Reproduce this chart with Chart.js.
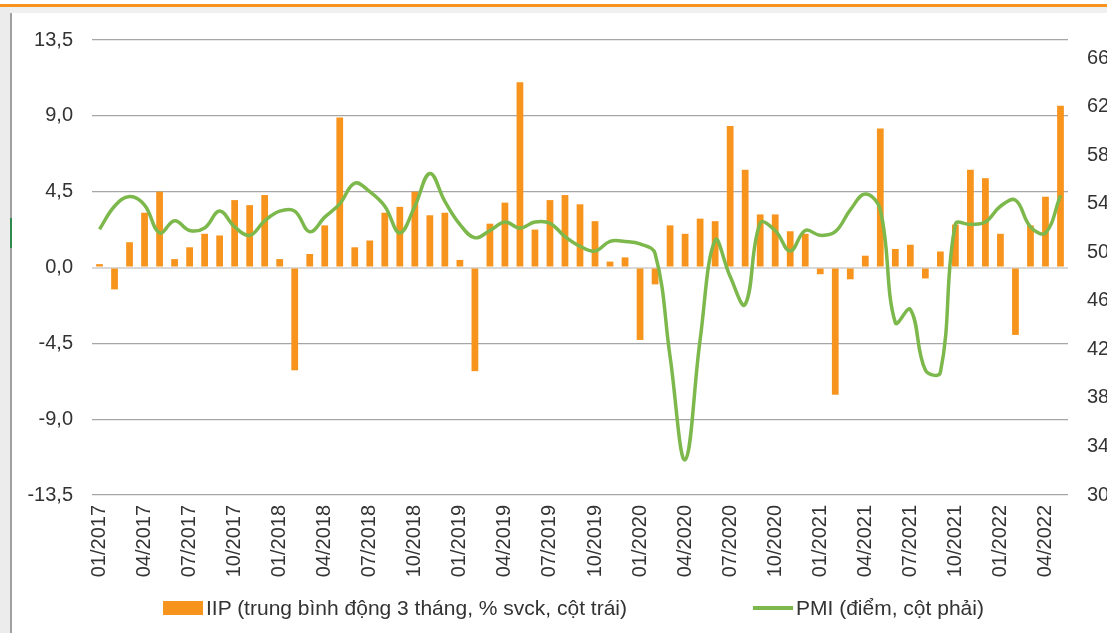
<!DOCTYPE html>
<html>
<head>
<meta charset="utf-8">
<script src="https://cdn.jsdelivr.net/npm/chart.js@4.4.0/dist/chart.umd.min.js"></script>
<style>
  html, body { margin: 0; padding: 0; background: #fff; }
  body { width: 1107px; height: 633px; position: relative; overflow: hidden; font-family: 'Liberation Sans', Arial, sans-serif; }
  #topLine { position: absolute; left: 0; top: 4px; width: 1107px; height: 3px; background: #F7941E; }
  #topBand { position: absolute; left: 0; top: 7px; width: 1107px; height: 6px; background: #f0f0f0; }
  #leftBand { position: absolute; left: 0; top: 7px; width: 10px; height: 626px; background: #ececec; }
  #leftRule { position: absolute; left: 10px; top: 13px; width: 2px; height: 620px; background: #a0a0a0; }
  #greenMark { position: absolute; left: 10px; top: 218px; width: 2px; height: 30px; background: #2f8a4f; }
  #chartBox { position: absolute; left: 0; top: 0; width: 1107px; height: 633px; }
  .legend { position: absolute; top: 596px; font-size: 21px; color: #333; display: flex; align-items: center; white-space: nowrap; }
  .legend .box { display: inline-block; width: 40px; height: 14px; background: #F7941E; margin-right: 3px; }
  .legend .line { display: inline-block; width: 40px; height: 4px; background: #7CB84B; margin-right: 3px; }
</style>
</head>
<body>
<div id="topLine"></div>
<div id="topBand"></div>
<div id="leftBand"></div>
<div id="leftRule"></div>
<div id="greenMark"></div>
<div id="chartBox"><canvas id="iipPmiChart" width="1107" height="633"></canvas></div>
<div class="legend" style="left:163px"><span class="box"></span>IIP (trung bình động 3 tháng, % svck, cột trái)</div>
<div class="legend" style="left:753px"><span class="line"></span>PMI (điểm, cột phải)</div>

<script>
// Months on the x axis (01/2017 - 05/2022)
const months = [
    '01/2017','02/2017','03/2017','04/2017','05/2017','06/2017','07/2017','08/2017','09/2017','10/2017','11/2017','12/2017',
    '01/2018','02/2018','03/2018','04/2018','05/2018','06/2018','07/2018','08/2018','09/2018','10/2018','11/2018','12/2018',
    '01/2019','02/2019','03/2019','04/2019','05/2019','06/2019','07/2019','08/2019','09/2019','10/2019','11/2019','12/2019',
    '01/2020','02/2020','03/2020','04/2020','05/2020','06/2020','07/2020','08/2020','09/2020','10/2020','11/2020','12/2020',
    '01/2021','02/2021','03/2021','04/2021','05/2021','06/2021','07/2021','08/2021','09/2021','10/2021','11/2021','12/2021',
    '01/2022','02/2022','03/2022','04/2022','05/2022'
];

// IIP, 3-month moving average, % yoy (left axis)
const iipValues = [
    0.2, -1.3, 1.5, 3.25, 4.5, 0.5, 1.2, 2.0, 1.9, 4.0, 3.7, 4.3,
    0.5, -6.1, 0.8, 2.5, 8.9, 1.2, 1.6, 3.25, 3.6, 4.5, 3.1, 3.25,
    0.45, -6.15, 2.6, 3.85, 11.0, 2.25, 4.0, 4.3, 3.75, 2.75, 0.35, 0.6,
    -4.3, -1.0, 2.5, 2.0, 2.9, 2.75, 8.4, 5.8, 3.15, 3.15, 2.15, 2.0,
    -0.4, -7.55, -0.7, 0.7, 8.25, 1.1, 1.35, -0.65, 0.95, 2.55, 5.8, 5.3,
    2.0, -4.0, 2.5, 4.2, 9.6
];

// PMI, points (right axis)
const pmiValues = [
    51.9, 53.8, 54.6, 53.9, 51.6, 52.6, 51.8, 52.0, 53.4, 52.1, 51.4, 52.6,
    53.4, 53.4, 51.7, 52.9, 54.0, 55.7, 55.0, 53.8, 51.6, 53.8, 56.5, 54.2,
    52.3, 51.2, 51.8, 52.5, 52.0, 52.5, 52.4, 51.3, 50.5, 50.1, 50.9, 50.9,
    50.7, 49.9, 41.4, 32.9, 42.8, 51.0, 48.0, 45.7, 52.4, 51.8, 50.1, 51.8,
    51.4, 51.7, 53.5, 54.8, 53.5, 44.2, 45.3, 40.3, 40.1, 52.3, 52.3, 52.5,
    53.8, 54.3, 52.1, 51.6, 54.7
];

// Axis ticks
const leftTicks = [-13.5, -9.0, -4.5, 0.0, 4.5, 9.0, 13.5];
const rightTicks = [30, 34, 38, 42, 46, 50, 54, 58, 62, 66];

const textColor = '#333333';
const fontFamily = "'Liberation Sans', Arial, sans-serif";

const ctx = document.getElementById('iipPmiChart');
new Chart(ctx, {
    type: 'bar',
    data: {
        labels: months,
        datasets: [
            {
                type: 'line',
                label: 'PMI (điểm, cột phải)',
                data: pmiValues,
                yAxisID: 'yRight',
                borderColor: '#7CB84B',
                backgroundColor: '#7CB84B',
                borderWidth: 3.5,
                pointRadius: 0,
                tension: 0.4,
                fill: false,
                order: 0
            },
            {
                type: 'bar',
                label: 'IIP (trung bình động 3 tháng, % svck, cột trái)',
                data: iipValues,
                yAxisID: 'yLeft',
                backgroundColor: '#F7941E',
                categoryPercentage: 1.0,
                barPercentage: 0.45,
                order: 1
            }
        ]
    },
    options: {
        responsive: false,
        devicePixelRatio: 1,
        animation: false,
        layout: { padding: { top: 40, left: 0, right: 0, bottom: 0 } },
        plugins: {
            legend: { display: false },
            tooltip: { enabled: false }
        },
        scales: {
            x: {
                grid: { display: false, drawTicks: false },
                border: { display: false },
                ticks: {
                    autoSkip: false,
                    minRotation: 90,
                    maxRotation: 90,
                    padding: 10,
                    color: textColor,
                    font: { family: fontFamily, size: 20 },
                    callback: function (value, index) {
                        return index % 3 === 0 ? this.getLabelForValue(value) : '';
                    }
                },
                afterFit: function (scale) { scale.height = 138; }
            },
            yLeft: {
                position: 'left',
                min: -13.5,
                max: 13.5,
                afterBuildTicks: function (scale) {
                    scale.ticks = leftTicks.map(v => ({ value: v }));
                },
                grid: {
                    drawTicks: false,
                    color: c => (c.tick && Math.abs(c.tick.value) < 1e-9) ? '#d9d9d9' : '#a6a6a6',
                    lineWidth: c => (c.tick && Math.abs(c.tick.value) < 1e-9) ? 2 : 1.3
                },
                border: { display: false },
                ticks: {
                    padding: 19,
                    color: textColor,
                    font: { family: fontFamily, size: 20 },
                    callback: v => v.toFixed(1).replace('.', ',')
                },
                afterFit: function (scale) { scale.width = 92; }
            },
            yRight: {
                position: 'right',
                min: 30,
                max: 67.5,
                afterBuildTicks: function (scale) {
                    scale.ticks = rightTicks.map(v => ({ value: v }));
                },
                grid: { display: false, drawOnChartArea: false, drawTicks: false },
                border: { display: false },
                ticks: {
                    padding: 19,
                    color: textColor,
                    font: { family: fontFamily, size: 20 },
                    callback: v => String(v)
                },
                afterFit: function (scale) { scale.width = 39; }
            }
        }
    }
});
</script>
</body>
</html>
